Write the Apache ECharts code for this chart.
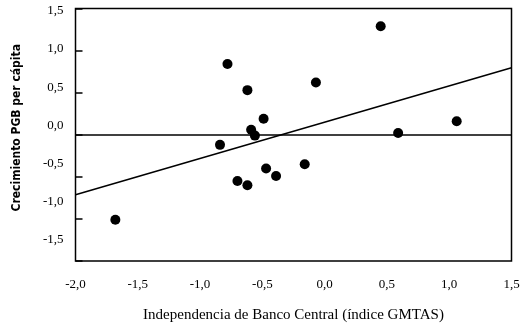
<!DOCTYPE html>
<html>
<head>
<meta charset="utf-8">
<script src="https://cdn.jsdelivr.net/npm/echarts@6/dist/echarts.min.js"></script>
<style>
  html, body { margin: 0; padding: 0; background: #fff; }
  #echart { width: 525px; height: 328px; }
</style>
</head>
<body>
<div id="echart"></div>
<script>
// indice GMTAS (x) vs crecimiento PGB per capita (y)
var independencia = [-1.68, -0.78, -0.62, -0.84, -0.70, -0.62, -0.59, -0.56,
                     -0.49, -0.47, -0.39, -0.16, -0.07, 0.45, 0.59, 1.06];
var crecimiento = [-1.01, 0.84, 0.53, -0.12, -0.55, -0.60, 0.06, -0.01,
                   0.19, -0.40, -0.49, -0.35, 0.62, 1.29, 0.02, 0.16];

// recta de regresion (extremos del eje x)
var regX = [-2.0, 1.5];
var regY = [-0.714, 0.796];

var xTicks = [-2.0, -1.5, -1.0, -0.5, 0.0, 0.5, 1.0, 1.5];
var yTicks = [-1.5, -1.0, -0.5, 0.0, 0.5, 1.0, 1.5];

function coma(v) {
    return v.toFixed(1).replace('.', ',');
}

var chartDom = document.getElementById('echart');
var myChart = echarts.init(chartDom);

var puntos = independencia.map(function (x, i) { return [x, crecimiento[i]]; });
var recta = regX.map(function (x, i) { return [x, regY[i]]; });

var option = {
    animation: false,
    grid: {
        left: 75.5, right: 13.5, top: 8.5, bottom: 64.5,
        show: true,
        borderColor: '#000',
        borderWidth: 1.5,
        containLabel: false
    },
    xAxis: {
        type: 'value',
        min: -2.0, max: 1.5, interval: 0.5,
        name: 'Independencia de Banco Central (índice GMTAS)',
        nameLocation: 'middle',
        nameGap: 47,
        nameTextStyle: { fontFamily: 'Liberation Serif', fontSize: 15, color: '#000' },
        axisLine: { show: false, onZero: false },
        axisTick: { show: false },
        splitLine: { show: false },
        axisLabel: {
            margin: 17,
            fontFamily: 'Liberation Serif', fontSize: 13, color: '#000',
            formatter: coma
        }
    },
    yAxis: [{
        // escala de los datos
        type: 'value',
        min: -1.5, max: 1.5, interval: 0.5,
        axisLine: { show: false, onZero: false },
        axisTick: { show: true, inside: true, length: 7, lineStyle: { color: '#000', width: 1.5 } },
        splitLine: { show: false },
        axisLabel: { show: false }
    }, {
        // rotulos del eje y, tal como aparecen en la figura
        type: 'value',
        position: 'left',
        min: -1.7835, max: 1.5325,
        name: 'Crecimiento PGB per cápita',
        nameLocation: 'middle',
        nameGap: 53,
        nameTextStyle: {
            fontFamily: "'Liberation Sans Narrow', 'DejaVu Sans Condensed', sans-serif",
            fontWeight: 'bold', fontSize: 12, color: '#000',
            padding: [0, 0, 0, 14]
        },
        axisLine: { show: false, onZero: false },
        axisTick: { show: false },
        splitLine: { show: false },
        axisLabel: {
            customValues: yTicks,
            margin: 12,
            fontFamily: 'Liberation Serif', fontSize: 13, color: '#000',
            formatter: coma
        }
    }],
    series: [{
        name: 'Países',
        type: 'scatter',
        data: puntos,
        symbolSize: 10,
        itemStyle: { color: '#000', opacity: 1 },
        markLine: {
            silent: true,
            symbol: 'none',
            label: { show: false },
            lineStyle: { color: '#000', width: 1.5, type: 'solid' },
            data: [{ yAxis: 0 }]
        },
        z: 3
    }, {
        name: 'Regresión',
        type: 'line',
        data: recta,
        showSymbol: false,
        symbol: 'none',
        lineStyle: { color: '#000', width: 1.5 },
        z: 2
    }]
};

myChart.setOption(option);

window.addEventListener('resize', function () {
    myChart.resize();
});
</script>
</body>
</html>
